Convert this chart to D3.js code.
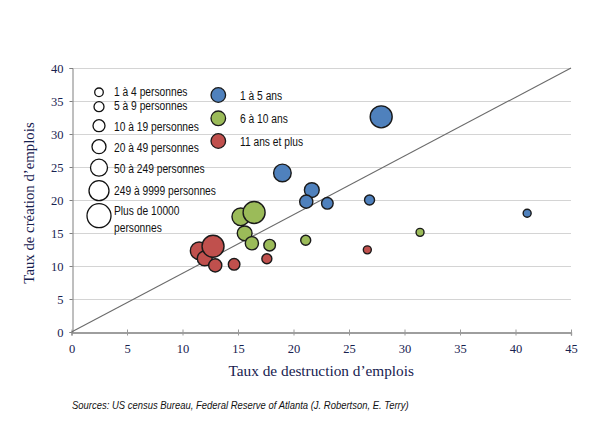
<!DOCTYPE html>
<html><head><meta charset="utf-8">
<script src="https://cdn.jsdelivr.net/npm/d3@7"></script>
<style>
body{margin:0;background:#fff;}
.narrow{font-family:"Liberation Sans","Arial",sans-serif;}
.serif{font-family:"Liberation Serif","Times New Roman",serif;}
</style></head>
<body><svg id="c" width="610" height="442"></svg>
<script>
// ---- data ----
const sizeLabels = ["1 à 4 personnes","5 à 9 personnes","10 à 19 personnes","20 à 49 personnes","50 à 249 personnes","249 à 9999 personnes","Plus de 10000 personnes"];
const ageGroups = ["1 à 5 ans","6 à 10 ans","11 ans et plus"];
const ageColors = ["#4F81BD","#9BBB59","#C0504D"];
const xTicks = [0,5,10,15,20,25,30,35,40,45];
const yTicks = [0,5,10,15,20,25,30,35,40];

// 1 à 5 ans
const destruction1 = [27.9, 19.0, 21.65, 21.15, 23.05, 26.85, 41.05];
const creation1    = [32.6, 24.1, 21.5, 19.75, 19.5, 20.0, 18.0];
const size1        = [6, 5, 4, 3, 2, 1, 0];
// 6 à 10 ans
const destruction2 = [15.25, 16.45, 15.6, 16.25, 17.85, 21.1, 31.4];
const creation2    = [17.45, 18.1, 14.95, 13.45, 13.15, 13.9, 15.1];
const size2        = [5, 6, 4, 3, 2, 1, 0];
// 11 ans et plus
const destruction3 = [11.5, 12.0, 12.75, 12.95, 14.65, 17.6, 26.65];
const creation3    = [12.3, 11.15, 13.0, 10.1, 10.25, 11.1, 12.45];
const size3        = [5, 4, 6, 3, 2, 1, 0];

const seriesX = [destruction1, destruction2, destruction3];
const seriesY = [creation1, creation2, creation3];
const seriesS = [size1, size2, size3];

// ---- drawing ----
const svg = d3.select("#c");
const x = d3.scaleLinear().domain([0,45]).range([71.5,571]);
const y = d3.scaleLinear().domain([0,40]).range([332,68]);
const r = d3.scaleOrdinal().domain(d3.range(7)).range([4,5,5.8,6.6,7.4,8.8,11]);
const rLeg = d3.scaleOrdinal().domain(d3.range(7)).range([4.3,5,6,7,8.5,10,12]);
const navy = "#17214f";

function narrowText(parent, tx, ty, str, size, sx, italic){
  const t = parent.append("text").attr("class","narrow")
    .attr("transform",`translate(${tx},${ty}) scale(${sx},1)`)
    .attr("font-size",size).attr("fill","#111").text(str);
  if(italic) t.attr("font-style","italic");
  return t;
}

// gridlines
svg.append("g").selectAll("line").data(yTicks.filter(d=>d>0)).join("line")
  .attr("x1", x(0)).attr("x2", x(45)).attr("y1", d=>Math.round(y(d))+0.5).attr("y2", d=>Math.round(y(d))+0.5)
  .attr("stroke","#d4d4d4").attr("stroke-width",1);

// y axis
const yAxis = svg.append("g").attr("transform",`translate(${Math.round(x(0))+0.5},0)`)
  .call(d3.axisLeft(y).tickValues(yTicks).tickSize(3).tickPadding(6));
yAxis.select(".domain").attr("stroke","#7f7f7f");
yAxis.selectAll(".tick line").attr("stroke","#7f7f7f");
yAxis.selectAll(".tick text").attr("class","serif").attr("fill",navy).attr("font-size",12.5);

// x axis
const xAxis = svg.append("g").attr("transform",`translate(0,${Math.round(y(0))+0.5})`)
  .call(d3.axisBottom(x).tickValues(xTicks).tickSize(3).tickPadding(9));
xAxis.select(".domain").attr("stroke","#7f7f7f").attr("stroke-width",1.3);
xAxis.selectAll(".tick line").attr("stroke","#9a9a9a").attr("y1",-3).attr("y2",3);
xAxis.selectAll(".tick text").attr("class","serif").attr("fill",navy).attr("font-size",12.5);

// diagonal
svg.append("line").attr("x1",x(0)).attr("y1",y(0)).attr("x2",x(45)).attr("y2",y(40))
  .attr("stroke","#6b6b6b").attr("stroke-width",1.1);

// bubbles
seriesX.forEach((xs,gi)=>{
  const pts = xs.map((v,i)=>({x:v,y:seriesY[gi][i],s:seriesS[gi][i]}));
  svg.append("g").selectAll("circle").data(pts).join("circle")
    .attr("cx",d=>x(d.x)).attr("cy",d=>y(d.y)).attr("r",d=>r(d.s))
    .attr("fill",ageColors[gi]).attr("stroke","#1a1a1a").attr("stroke-width",1.4);
});

// axis titles
svg.append("text").attr("class","serif").attr("x",(x(0)+x(45))/2).attr("y",376)
  .attr("text-anchor","middle").attr("fill",navy).attr("font-size",15.3).text("Taux de destruction d’emplois");
svg.append("text").attr("class","serif").attr("transform","translate(34,203) rotate(-90)")
  .attr("text-anchor","middle").attr("fill",navy).attr("font-size",14.8).text("Taux de création d’emplois");

// size legend
const legY = [92.3,106.7,125.7,146.7,167.7,190.7,215.7];
const legTextY = [96,110,131,152,173,195,[215,232]];
const lg = svg.append("g");
sizeLabels.forEach((lab,i)=>{
  lg.append("circle").attr("cx",99).attr("cy",legY[i]).attr("r",rLeg(i))
    .attr("fill","#fff").attr("stroke","#111").attr("stroke-width",1.3);
  if(i<6){
    narrowText(lg,114,legTextY[i],lab,12.5,0.82);
  } else {
    const words = lab.split(" ");
    narrowText(lg,114,legTextY[i][0],words.slice(0,3).join(" "),12.5,0.82);
    narrowText(lg,114,legTextY[i][1],words.slice(3).join(" "),12.5,0.82);
  }
});
// age legend
const ageY = [95,118.3,141];
ageGroups.forEach((lab,i)=>{
  lg.append("circle").attr("cx",218.3).attr("cy",ageY[i]).attr("r",7.3)
    .attr("fill",ageColors[i]).attr("stroke","#1a1a1a").attr("stroke-width",1.3);
  narrowText(lg,240,ageY[i]+4.5,lab,12.5,0.82);
});

// source
narrowText(svg,72,409,"Sources: US census Bureau, Federal Reserve of Atlanta (J. Robertson, E. Terry)",11,0.86,true);
</script></body></html>
